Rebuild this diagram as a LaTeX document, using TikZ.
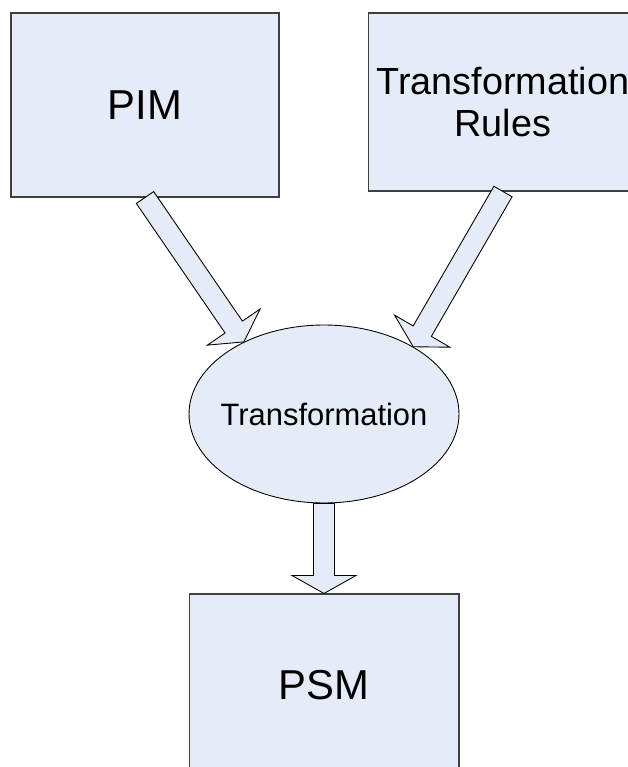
\documentclass[tikz,border=0pt]{standalone}
\usepackage{fontspec}
\setmainfont{Liberation Sans}
\usetikzlibrary{calc,shapes.geometric}
\definecolor{boxfill}{HTML}{E6ECF7}
\definecolor{boxline}{HTML}{404040}

% block arrow from tail #1 to tip #2 (both named coordinates)
\newcommand{\blockarrow}[2]{%
  \coordinate (#2h) at ($(#2)!0.36cm!(#1)$);
  \draw[barrow] ($(#1)!0.21cm!90:(#2)$) -- ($(#2h)!0.21cm!-90:(#1)$)
    -- ($(#2h)!0.64cm!-90:(#1)$) -- (#2) -- ($(#2h)!0.64cm!90:(#1)$)
    -- ($(#2h)!0.21cm!90:(#1)$) -- ($(#1)!0.21cm!-90:(#2)$) -- cycle;
}

\begin{document}
\begin{tikzpicture}[x=0.02cm,y=-0.02cm,
  model/.style={rectangle,draw=boxline,fill=boxfill,line width=0.6pt,
                inner sep=0pt,align=center,minimum width=5.36cm,minimum height=3.68cm},
  proc/.style={ellipse,draw=black,fill=boxfill,line width=0.5pt,inner sep=0pt,
               minimum width=5.4cm,minimum height=3.56cm},
  barrow/.style={draw=black,fill=boxfill,line width=0.5pt,line join=miter}
]
\useasboundingbox (0,0) rectangle (627,767);

% ---- Models ------------------------------------------------
\node[model,font=\fontsize{23.8}{26}\selectfont] (pim) at (145,105) {PIM};
\node[model,minimum width=5.4cm,minimum height=3.56cm,
      font=\fontsize{21.5}{23.8}\selectfont] (rules) at (503,102)
      {Transformation\\Rules};
\node[model,minimum width=5.4cm,minimum height=3.64cm,
      font=\fontsize{23.8}{26}\selectfont] (psm) at (324,685) {PSM};

% ---- Transformation ----------------------------------------
\node[proc,label={[font=\fontsize{17.6}{20}\selectfont]center:Transformation}]
  (trans) at (324,414) {};

% ---- Block arrows ------------------------------------------
\coordinate (t1) at (pim.south);
\coordinate (p1) at (trans.138.8);
\coordinate (t2) at (rules.south);
\coordinate (p2) at (trans.37.6);
\coordinate (t3) at (trans.south);
\coordinate (p3) at (psm.north);
\blockarrow{t1}{p1}
\blockarrow{t2}{p2}
\blockarrow{t3}{p3}

\end{tikzpicture}
\end{document}
